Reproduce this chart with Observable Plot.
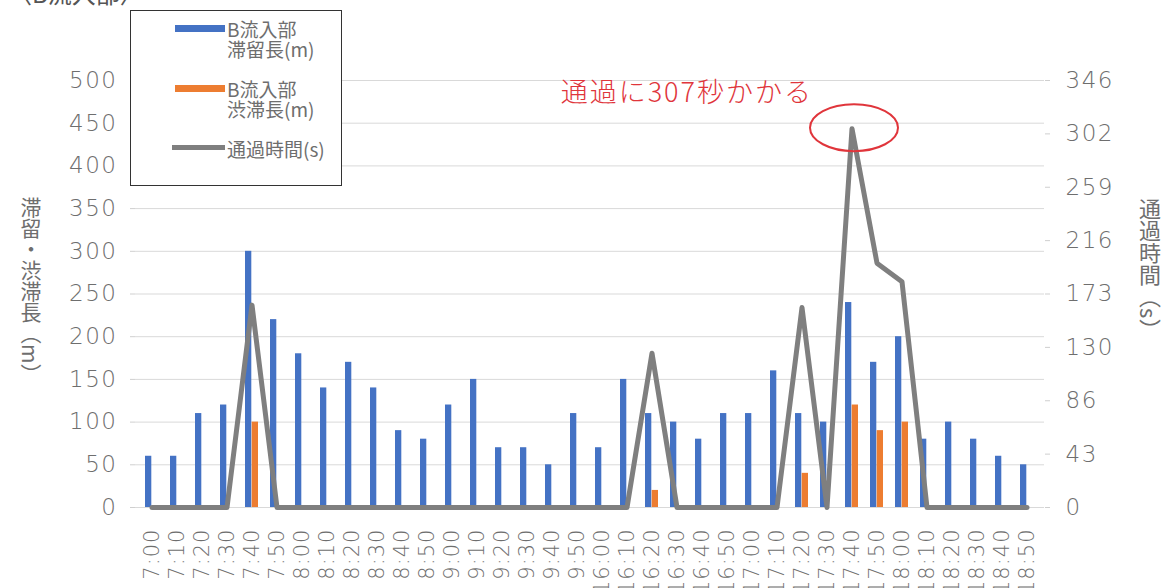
<!DOCTYPE html>
<html>
<head>
<meta charset="utf-8">
<script src="https://cdn.jsdelivr.net/npm/d3@7"></script>
<script src="https://cdn.jsdelivr.net/npm/@observablehq/plot@0.6"></script>
<style>
html, body { margin: 0; padding: 0; background: #fff; }
#wrap { position: relative; width: 1161px; height: 588px; overflow: hidden; font-family: "Noto Sans CJK JP", sans-serif; color: #6e6e6e; }
#chart { position: absolute; left: 0; top: 0; }
.ovl { position: absolute; white-space: nowrap; }
#title { left: 8px; top: -25px; font-size: 24px; color: #555; }
#legend { left: 130px; top: 10px; width: 212px; height: 176px; border: 1.5px solid #333; box-sizing: border-box; background: #fff; }
.sw { position: absolute; }
.lt { position: absolute; font-size: 19px; line-height: 20px; color: #6e6e6e; white-space: pre; }
.vt { writing-mode: vertical-rl; text-orientation: mixed; }
#ytl { left: 16px; top: 197px; font-size: 21px; color: #6e6e6e; }
#ytr { left: 1134px; top: 198px; font-size: 22px; color: #6e6e6e; }
</style>
</head>
<body>
<div id="wrap">
  <div id="chart"></div>
  <div class="ovl" id="title">〈B流入部〉</div>
  <div class="ovl" id="legend"></div>
  <div class="ovl vt" id="ytl">滞留・渋滞長（m）</div>
  <div class="ovl vt" id="ytr">通過時間（s）</div>
</div>
<script>
// ---- data ----
const times = ["7:00","7:10","7:20","7:30","7:40","7:50","8:00","8:10","8:20","8:30","8:40","8:50",
  "9:00","9:10","9:20","9:30","9:40","9:50","16:00","16:10","16:20","16:30","16:40","16:50",
  "17:00","17:10","17:20","17:30","17:40","17:50","18:00","18:10","18:20","18:30","18:40","18:50"];
const stayLength = [60,60,110,120,300,220,180,140,170,140,90,80,
  120,150,70,70,50,110,70,150,110,100,80,110,
  110,160,110,100,240,170,200,80,100,80,60,50];
const jamLength = [0,0,0,0,100,0,0,0,0,0,0,0,
  0,0,0,0,0,0,0,0,20,0,0,0,
  0,0,40,0,120,90,100,0,0,0,0,0];
const passTime = [0,0,0,0,164,0,0,0,0,0,0,0,
  0,0,0,0,0,0,0,0,125,0,0,0,
  0,0,162,0,307,198,183,0,0,0,0,0];
const leftTicks = [0,50,100,150,200,250,300,350,400,450,500];
const rightTickLabels = ["0","43","86","130","173","216","259","302","346"];
const leftMax = 500;
const rightMax = 346;
const seriesNames = ["B流入部\n滞留長(m)", "B流入部\n渋滞長(m)", "通過時間(s)"];
const annotationText = "通過に307秒かかる";
const annotationTime = "17:40";
const annotationValue = 307;

// ---- styles ----
const BLUE = "#4472C4", ORANGE = "#ED7D31", GRAY = "#7F7F7F", RED = "#E0353B";
const TXT = "#6e6e6e";

const rows = times.map((t, i) => ({time: t, stay: stayLength[i], jam: jamLength[i], pass: passTime[i]}));
const toLeft = v => v * leftMax / rightMax;
const rightTicks = rightTickLabels.map((_, i) => i * leftMax / (rightTickLabels.length - 1));

// ellipse symbol (custom Plot symbol)
const ellipseSymbol = {
  draw(ctx, size) {
    const rx = 44, ry = 23.5, k = 0.5523;
    ctx.moveTo(rx, 0);
    ctx.bezierCurveTo(rx, ry * k, rx * k, ry, 0, ry);
    ctx.bezierCurveTo(-rx * k, ry, -rx, ry * k, -rx, 0);
    ctx.bezierCurveTo(-rx, -ry * k, -rx * k, -ry, 0, -ry);
    ctx.bezierCurveTo(rx * k, -ry, rx, -ry * k, rx, 0);
    ctx.closePath();
  }
};

const numFont = "'DejaVu Sans', 'Noto Sans CJK JP', sans-serif";
const inset = 6.7;

const plot = Plot.plot({
  width: 1161,
  height: 588,
  marginLeft: 135,
  marginRight: 117,
  marginTop: 80,
  marginBottom: 81,
  style: {fontFamily: numFont, background: "transparent", overflow: "visible"},
  x: {type: "band", domain: times, paddingInner: 0.47, paddingOuter: 0.235},
  y: {domain: [0, leftMax]},
  marks: [
    Plot.gridY(leftTicks, {stroke: "#d9d9d9", strokeOpacity: 1, strokeWidth: 1}),
    Plot.axisY(leftTicks, {anchor: "left", tickSize: 5, tickPadding: 13, stroke: "#cfcfcf", fill: TXT,
      fontSize: 23, label: null, fontWeight: 300, className: "ynum"}),
    Plot.axisY(rightTicks, {anchor: "right", tickSize: 5, tickPadding: 16, stroke: "#cfcfcf", fill: TXT,
      fontSize: 23, label: null, fontWeight: 300, className: "ynum", tickFormat: (d, i) => rightTickLabels[i]}),
    Plot.axisX(times, {anchor: "bottom", tickSize: 0, tickPadding: 21, tickRotate: -90, fill: TXT,
      fontSize: 21, label: null, fontWeight: 300, className: "xnum"}),
    Plot.barY(rows, {x: "time", y: "stay", fill: BLUE, insetRight: inset}),
    Plot.barY(rows.filter(d => d.jam > 0), {x: "time", y: "jam", fill: ORANGE, insetLeft: inset}),
    Plot.lineY(rows, {x: "time", y: d => toLeft(d.pass), stroke: GRAY, strokeWidth: 5,
      strokeLinejoin: "round", strokeLinecap: "round"}),
    Plot.dot([{time: annotationTime, v: annotationValue}], {x: "time", y: d => toLeft(d.v), symbol: ellipseSymbol,
      stroke: RED, strokeWidth: 2, fill: "none", dx: 2, dy: -1}),
    Plot.text([{time: annotationTime, v: annotationValue}], {x: "time", y: d => toLeft(d.v), text: () => annotationText,
      textAnchor: "end", dx: -39, dy: -35, fill: RED, fontSize: 27, fontFamily: "'Noto Sans CJK JP', sans-serif",
      fontWeight: 300, className: "anno"})
  ]
});
plot.querySelectorAll(".ynum text").forEach(t => t.style.letterSpacing = "1.5px");
plot.querySelectorAll(".xnum text").forEach(t => t.style.letterSpacing = "1px");
plot.querySelectorAll(".anno text").forEach(t => t.style.letterSpacing = "2px");
document.getElementById("chart").appendChild(plot);

// ---- legend (HTML overlay) ----
const legend = document.getElementById("legend");
const legendItems = [
  {name: seriesNames[0], color: BLUE, kind: "bar", top: 14},
  {name: seriesNames[1], color: ORANGE, kind: "bar", top: 74},
  {name: seriesNames[2], color: GRAY, kind: "line", top: 134}
];
legendItems.forEach(it => {
  const sw = document.createElement("div");
  sw.className = "sw";
  if (it.kind === "bar") {
    sw.style.cssText = `left:44px;top:${it.top}px;width:50px;height:7px;background:${it.color}`;
  } else {
    sw.style.cssText = `left:41px;top:${it.top}px;width:53px;height:5px;background:${it.color}`;
  }
  legend.appendChild(sw);
  const tx = document.createElement("div");
  tx.className = "lt";
  tx.textContent = it.name;
  tx.style.left = "96px";
  tx.style.top = (it.top - 6) + "px";
  legend.appendChild(tx);
});
</script>
</body>
</html>
